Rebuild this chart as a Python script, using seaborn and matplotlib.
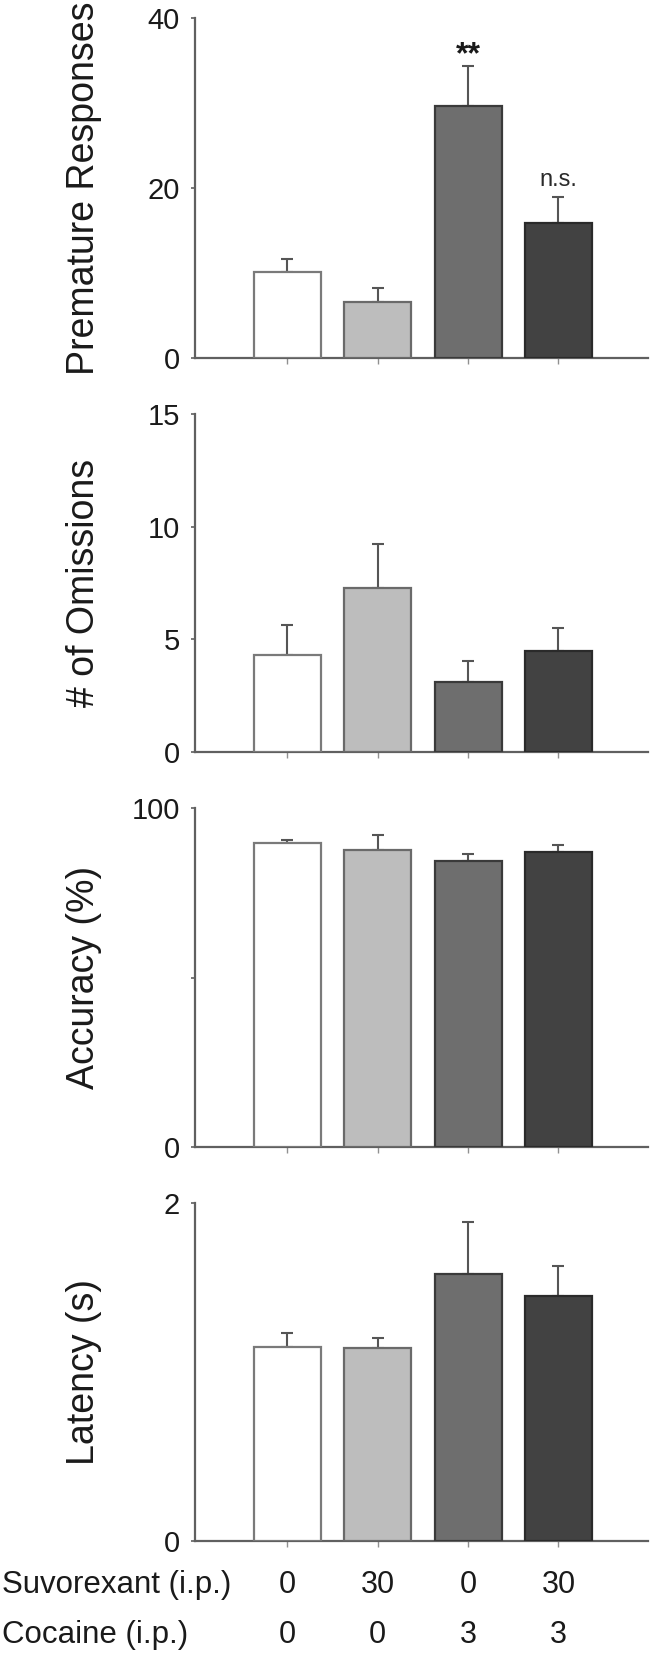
import matplotlib
matplotlib.use("Agg")
import matplotlib.pyplot as plt
import matplotlib.transforms as mtransforms
import seaborn as sns
import pandas as pd
import numpy as np

# ---- data ----
groups = ["Veh/Veh", "Suv30/Veh", "Veh/Coc3", "Suv30/Coc3"]
suvorexant_labels = ["0", "30", "0", "30"]
cocaine_labels = ["0", "0", "3", "3"]

premature = [10.1, 6.6, 29.6, 15.9]
premature_sem = [1.6, 1.65, 4.7, 3.0]
omissions = [4.3, 7.3, 3.1, 4.5]
omissions_sem = [1.35, 1.95, 0.95, 1.0]
accuracy = [89.7, 87.7, 84.5, 86.9]
accuracy_sem = [0.8, 4.4, 1.9, 2.3]
latency = [1.15, 1.14, 1.58, 1.45]
latency_sem = [0.08, 0.06, 0.31, 0.18]

ylabels = ["Premature Responses", "# of Omissions", "Accuracy (%)", "Latency (s)"]
ylims = [40, 15, 100, 2]
yticks = [[0, 20, 40], [0, 5, 10, 15], [0, 50, 100], [0, 2]]
yticklabels = [["0", "20", "40"], ["0", "5", "10", "15"], ["0", "", "100"], ["0", "2"]]

bar_colors = ["#ffffff", "#bdbdbd", "#6e6e6e", "#424242"]
edge_colors = ["#7a7a7a", "#6a6a6a", "#3a3a3a", "#2a2a2a"]

sns.set_theme(style="white")
plt.rcParams["font.family"] = ["Liberation Sans", "DejaVu Sans"]

fig = plt.figure(figsize=(6.5, 16.55), dpi=100)
H = 1655.0
panels = [(18, 358), (414, 752), (808, 1147), (1203, 1541)]
left_px, right_px = 195, 648

values_list = [premature, omissions, accuracy, latency]
sem_list = [premature_sem, omissions_sem, accuracy_sem, latency_sem]

axes = []
for i, (top, bot) in enumerate(panels):
    ax = fig.add_axes([left_px / 650, 1 - bot / H, (right_px - left_px) / 650, (bot - top) / H])
    axes.append(ax)
    df = pd.DataFrame({"group": groups, "value": values_list[i]})
    sns.barplot(data=df, x="group", y="value", hue="group", palette=bar_colors,
                order=groups, hue_order=groups, width=0.74, legend=False,
                errorbar=None, ax=ax, zorder=3)
    for patch, ec in zip(ax.patches, edge_colors):
        patch.set_edgecolor(ec)
        patch.set_linewidth(1.6)
    xs = np.arange(len(groups))
    ax.errorbar(xs, values_list[i], yerr=[np.zeros(len(groups)), sem_list[i]],
                fmt="none", ecolor="#555555", elinewidth=1.5, capsize=4,
                capthick=1.5, zorder=2)
    ax.set_xlim(-1.02, 3.99)
    ax.set_ylim(0, ylims[i])
    ax.set_yticks(yticks[i])
    ax.set_yticklabels(yticklabels[i])
    ax.set_xticks(xs)
    ax.set_xticklabels([])
    ax.set_xlabel("")
    ax.set_ylabel(ylabels[i], fontsize=27, color="#1a1a1a")
    ax.yaxis.set_label_coords(-0.205, 0.5)
    for s in ["top", "right"]:
        ax.spines[s].set_visible(False)
    for s in ["left", "bottom"]:
        ax.spines[s].set_color("#606060")
        ax.spines[s].set_linewidth(1.6)
    ax.tick_params(axis="y", direction="out", length=3, width=1.2, color="#606060",
                   labelsize=21, labelcolor="#1a1a1a", pad=8, left=True)
    ax.tick_params(axis="x", direction="out", length=4, width=1.0, color="#909090",
                   bottom=True)

# significance marks on the premature panel
ax0 = axes[0]
ax0.annotate("**", xy=(2, premature[2] + premature_sem[2]), xytext=(0, 2.5),
             textcoords="offset points", ha="center", va="baseline",
             fontsize=23, fontweight="bold", color="#1a1a1a")
ax0.annotate("n.s.", xy=(3, premature[3] + premature_sem[3]), xytext=(0, 8),
             textcoords="offset points", ha="center", va="baseline",
             fontsize=17, color="#2a2a2a")

# bottom condition rows
ax = axes[-1]
trans = mtransforms.blended_transform_factory(ax.transData, fig.transFigure)
for j in range(len(groups)):
    ax.text(j, 1 - 1585 / H, suvorexant_labels[j], transform=trans, ha="center",
            va="center", fontsize=22, color="#1a1a1a")
    ax.text(j, 1 - 1635 / H, cocaine_labels[j], transform=trans, ha="center",
            va="center", fontsize=22, color="#1a1a1a")
fig.text(2 / 650, 1 - 1585 / H, "Suvorexant (i.p.)", ha="left", va="center",
         fontsize=22.5, color="#1a1a1a")
fig.text(2 / 650, 1 - 1635 / H, "Cocaine (i.p.)", ha="left", va="center",
         fontsize=22.5, color="#1a1a1a")

fig.savefig("out.png", dpi=100)
